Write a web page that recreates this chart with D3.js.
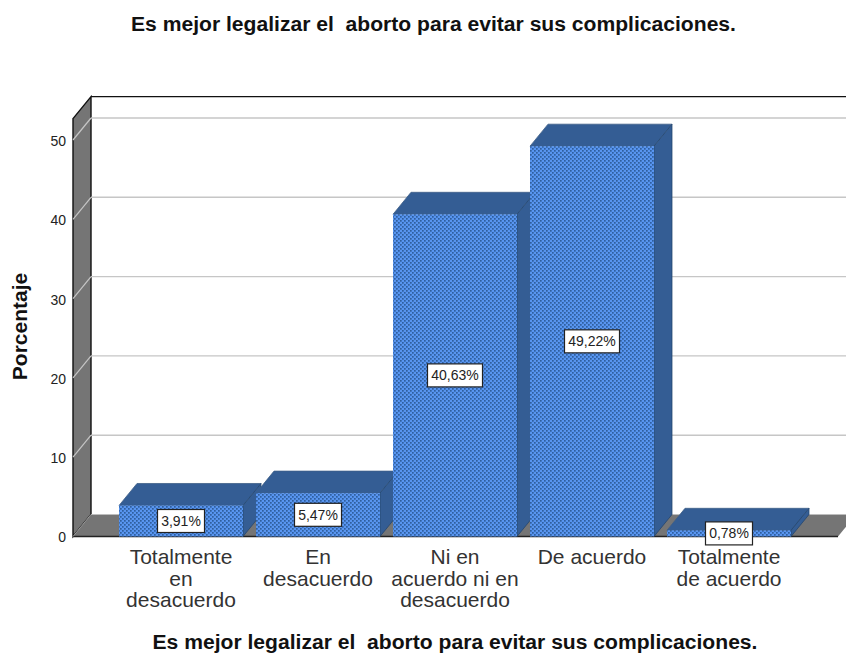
<!DOCTYPE html>
<html><head><meta charset="utf-8">
<script src="https://cdn.jsdelivr.net/npm/d3@7"></script>
<style>html,body{margin:0;padding:0;background:#fff;overflow:hidden}svg{display:block}text{font-family:"Liberation Sans",Arial,sans-serif}</style>
</head><body><svg id="c" width="846" height="653"></svg>
<script>
const categories=[["Totalmente","en","desacuerdo"],["En","desacuerdo"],["Ni en","acuerdo ni en","desacuerdo"],["De acuerdo"],["Totalmente","de acuerdo"]];
const values=[3.91,5.47,40.63,49.22,0.78];
const valueLabels=["3,91%","5,47%","40,63%","49,22%","0,78%"];
const yTicks=[0,10,20,30,40,50];
const titleText="Es mejor legalizar el  aborto para evitar sus complicaciones.";
const yTitle="Porcentaje";

const svg=d3.select("#c");
const x=d3.scaleBand().domain(d3.range(values.length)).range([119,791]).paddingInner(0.0949).paddingOuter(0);
const y=d3.scaleLinear().domain([0,50]).range([536.5,140]);
const dx=18,dy=-22,left=73,right=838,topV=52.7;
const pts=a=>a.map(p=>p.join(",")).join(" ");

const defs=svg.append("defs");
const pat=defs.append("pattern").attr("id","dots").attr("patternUnits","userSpaceOnUse").attr("width",4).attr("height",4);
pat.append("rect").attr("width",4).attr("height",4).attr("fill","#5895f0");
pat.append("rect").attr("x",0).attr("y",0).attr("width",1.7).attr("height",1.7).attr("fill","#2f5f9f");
pat.append("rect").attr("x",2).attr("y",2).attr("width",1.7).attr("height",1.7).attr("fill","#2f5f9f");

// titles
svg.append("text").attr("x",433.5).attr("y",31).attr("text-anchor","middle").attr("font-size",21.1).attr("font-weight","bold").style("white-space","pre").attr("fill","#111").text(titleText);
svg.append("text").attr("x",455).attr("y",649).attr("text-anchor","middle").attr("font-size",21.1).attr("font-weight","bold").style("white-space","pre").attr("fill","#111").text(titleText);
svg.append("text").attr("transform","translate(26.5,326.5) rotate(-90)").attr("text-anchor","middle").attr("font-size",21).attr("font-weight","bold").attr("fill","#111").text(yTitle);

// left wall
svg.append("polygon").attr("points",pts([[left,y(topV)],[left+dx,y(topV)+dy],[left+dx,y(0)+dy],[left,y(0)]])).attr("fill","#757575").attr("stroke","#111").attr("stroke-width",1.4);
// floor
svg.append("polygon").attr("points",pts([[left,y(0)],[left+dx,y(0)+dy],[right+dx,y(0)+dy],[right,y(0)]])).attr("fill","#757575");
svg.append("line").attr("x1",left).attr("x2",right).attr("y1",y(0)).attr("y2",y(0)).attr("stroke","#222").attr("stroke-width",1.6);
svg.append("line").attr("x1",left+dx).attr("x2",846).attr("y1",y(0)+dy).attr("y2",y(0)+dy).attr("stroke","#bdbdbd").attr("stroke-width",1.2);
svg.append("line").attr("x1",left).attr("x2",left+dx).attr("y1",y(0)).attr("y2",y(0)+dy).attr("stroke","#9a9a9a").attr("stroke-width",1);
svg.append("line").attr("x1",left+dx).attr("x2",846).attr("y1",y(topV)+dy).attr("y2",y(topV)+dy).attr("stroke","#111").attr("stroke-width",1.4);
// grid
const gridV=yTicks.slice(1);
svg.selectAll(".gb").data(gridV).join("line").attr("x1",left+dx).attr("x2",846).attr("y1",d=>y(d)+dy).attr("y2",d=>y(d)+dy).attr("stroke","#c6c6c6").attr("stroke-width",1.4);
svg.selectAll(".gs").data(gridV).join("line").attr("x1",left).attr("x2",left+dx).attr("y1",d=>y(d)).attr("y2",d=>y(d)+dy).attr("stroke","#c6c6c6").attr("stroke-width",1.2);

// axis
const ax=svg.append("g").attr("transform",`translate(${left},1)`).call(d3.axisLeft(y).tickValues(yTicks).tickSize(0).tickPadding(7).tickFormat(d3.format("d")));
ax.select(".domain").remove();
ax.selectAll("text").attr("font-size",14).attr("fill","#222").style("font-family",'"Liberation Sans",Arial,sans-serif');

// bars
const g=svg.selectAll(".bar").data(values).join("g");
const side="#345d94";
g.append("polygon").attr("points",(d,i)=>{const a=x(i),b=a+x.bandwidth(),t=y(d);return pts([[a,t],[a+dx,t+dy],[b+dx,t+dy],[b,t]]);}).attr("fill",side).attr("stroke","#3f5f88").attr("stroke-width",.8);
g.append("polygon").attr("points",(d,i)=>{const b=x(i)+x.bandwidth(),t=y(d),z=y(0);return pts([[b,t],[b+dx,t+dy],[b+dx,z+dy],[b,z]]);}).attr("fill",side).attr("stroke","#25466f").attr("stroke-width",.8);
g.append("rect").attr("x",(d,i)=>x(i)).attr("y",d=>y(d)).attr("width",x.bandwidth()).attr("height",d=>y(0)-y(d)).attr("fill","url(#dots)");

// category labels
categories.forEach((lines,i)=>{
  svg.append("text").attr("text-anchor","middle").attr("font-size",21).attr("fill","#333")
   .selectAll("tspan").data(lines).join("tspan").attr("x",x(i)+x.bandwidth()/2).attr("y",(d,k)=>564+k*21.7).text(d=>d);
});

// value labels
const vl=svg.selectAll(".vl").data(values).join("g").attr("transform",(d,i)=>`translate(${x(i)+x.bandwidth()/2},${(y(d)+y(0))/2})`);
vl.append("rect").attr("x",(d,i)=>-(valueLabels[i].length>5?27.5:23.5)).attr("y",-11.5).attr("width",(d,i)=>valueLabels[i].length>5?55:47).attr("height",23).attr("fill","#fff").attr("stroke","#222").attr("stroke-width",1.2);
vl.append("text").attr("text-anchor","middle").attr("y",5).attr("font-size",14).attr("fill","#222").text((d,i)=>valueLabels[i]);
</script></body></html>
